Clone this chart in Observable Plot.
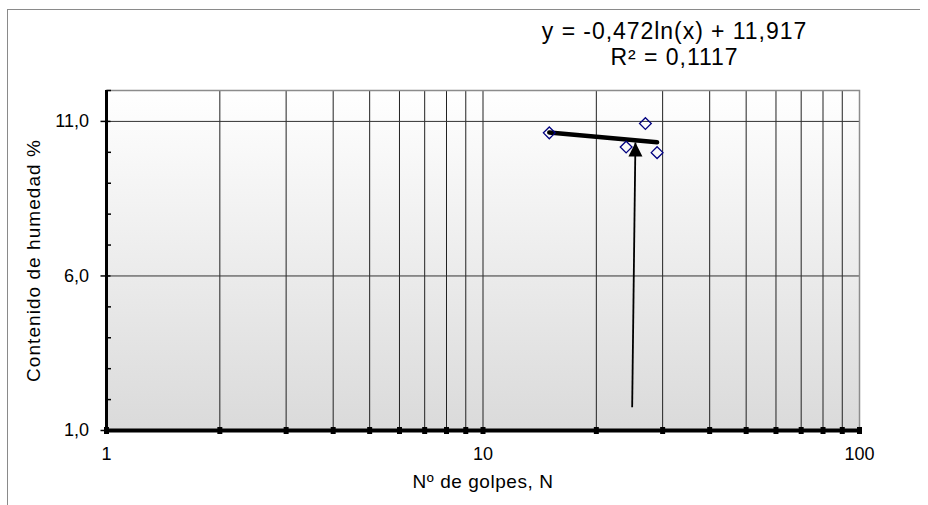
<!DOCTYPE html>
<html>
<head>
<meta charset="utf-8">
<script src="https://cdn.jsdelivr.net/npm/d3@7"></script>
<script src="https://cdn.jsdelivr.net/npm/@observablehq/plot@0.6"></script>
<style>
  body { margin: 0; background: #fff; }
  #chart { position: relative; width: 928px; height: 505px; overflow: hidden; font-family: "Liberation Sans", Arial, sans-serif; }
  #chart .area { position: absolute; left: 7px; top: 9px; width: 913px; height: 600px; box-sizing: border-box;
                 border-top: 1.5px solid #8a8a8a; border-left: 1.5px solid #8a8a8a; }
  #chart svg { position: absolute; left: 0; top: 0; }
</style>
</head>
<body>
<div id="chart"><div class="area"></div></div>
<script>
// Blow count (N) and moisture content (%) of each trial
const golpes = [15, 27, 24, 29];
const humedad = [10.63, 10.93, 10.17, 9.99];

// Logarithmic trendline y = a·ln(x) + b and its R²
const coefA = -0.472;
const coefB = 11.917;
const r2 = 0.1117;

// Axis ticks
const xGrid = [1, 2, 3, 4, 5, 6, 7, 8, 9, 10, 20, 30, 40, 50, 60, 70, 80, 90, 100];
const xTickLabels = [1, 10, 100];
const yMajor = [1, 6, 11];
const yMinor = [2, 3, 4, 5, 7, 8, 9, 10, 12];

// Arrow pointing at N = 25 on the trendline
const arrowX = [24.9, 25.4];
const arrowY = [1.75, 10.32];

// Titles
const yTitle = "Contenido de humedad %";
const xTitle = "Nº de golpes, N";

const fmt = (v, d) => v.toFixed(d).replace(".", ",");
const points = golpes.map((x, i) => ({x, y: humedad[i]}));
const trendX = d3.extent(golpes);
const trend = trendX.map(x => ({x, y: coefA * Math.log(x) + coefB}));
const equation = `y = ${fmt(coefA, 3)}ln(x) + ${fmt(coefB, 3)}\nR² = ${fmt(r2, 4)}`;

// Small custom symbols: axis tick stubs, square axis markers and a filled arrowhead (tip at origin)
const minorTick = {draw(ctx) { ctx.moveTo(0, 0); ctx.lineTo(4.5, 0); }};
const majorTick = {draw(ctx) { ctx.moveTo(-6, 0); ctx.lineTo(4, 0); }};
const axisSquare = {draw(ctx) { ctx.rect(-2.5, -3.5, 5, 7); }};
const arrowHead = {draw(ctx) { ctx.moveTo(0, 0); ctx.lineTo(7, 14); ctx.lineTo(-7, 14); ctx.closePath(); }};

const chart = Plot.plot({
  width: 928,
  height: 505,
  marginLeft: 106,
  marginRight: 69,
  marginTop: 90,
  marginBottom: 75,
  style: {fontFamily: '"Liberation Sans", Arial, sans-serif', background: "transparent", overflow: "visible"},
  x: {type: "log", domain: [1, 100]},
  y: {domain: [1, 12]},
  marks: [
    Plot.frame({fill: "url(#plotBg)"}),
    Plot.ruleX(xGrid.filter(d => d > 1 && d < 100), {x: d => d, stroke: "#222", strokeWidth: 1}),
    Plot.ruleY(yMajor.filter(d => d > 1), {y: d => d, stroke: "#333", strokeWidth: 1}),
    Plot.frame({stroke: "#8c8c8c", strokeWidth: 1.5}),
    Plot.ruleX([1], {x: d => d, stroke: "#000", strokeWidth: 3}),
    Plot.ruleY([1], {y: d => d, stroke: "#000", strokeWidth: 4}),
    Plot.dot(yMinor, {y: d => d, frameAnchor: "left", symbol: minorTick, r: 4, stroke: "#000", strokeWidth: 1.5, fill: "none"}),
    Plot.dot(yMajor, {y: d => d, frameAnchor: "left", symbol: majorTick, r: 4, stroke: "#000", strokeWidth: 1.5, fill: "none"}),
    Plot.dot(xGrid, {x: d => d, frameAnchor: "bottom", symbol: axisSquare, r: 3, fill: "#000", stroke: "none"}),
    Plot.axisY(yMajor, {tickSize: 0, tickPadding: 17.5, tickFormat: d => fmt(d, 1), fontSize: 18, label: null}),
    Plot.axisX(xTickLabels, {tickSize: 0, tickPadding: 17, tickFormat: d => String(d), fontSize: 18, label: null}),
    Plot.text([yTitle], {frameAnchor: "left", rotate: -90, dx: -73, fontSize: 19, textAnchor: "middle", lineAnchor: "middle", fill: "#000"}),
    Plot.text([xTitle], {frameAnchor: "bottom", dy: 51, fontSize: 19, textAnchor: "middle", lineAnchor: "middle", fill: "#000"}),
    Plot.text([equation], {frameAnchor: "top-right", dx: -185, dy: -47, fontSize: 23, lineHeight: 1.16, textAnchor: "middle", lineAnchor: "middle", fill: "#000"}),
    Plot.line(trend, {x: "x", y: "y", stroke: "#000", strokeWidth: 4.5}),
    Plot.link([{x1: arrowX[0], y1: arrowY[0], x2: arrowX[1], y2: arrowY[1]}], {x1: "x1", y1: "y1", x2: "x2", y2: "y2", stroke: "#000", strokeWidth: 1.8}),
    Plot.dot([{x: arrowX[1], y: arrowY[1]}], {x: "x", y: "y", symbol: arrowHead, r: 7, fill: "#000", stroke: "none"}),
    Plot.dot(points, {x: "x", y: "y", symbol: "diamond2", r: 5.3, stroke: "#000080", strokeWidth: 1.3, fill: "none"})
  ]
});

const svg = d3.select(chart);

// Vertical white-to-grey fill of the plotting area
const grad = svg.insert("defs", ":first-child").append("linearGradient")
  .attr("id", "plotBg").attr("x1", 0).attr("y1", 0).attr("x2", 0).attr("y2", 1);
grad.append("stop").attr("offset", "0%").attr("stop-color", "#ffffff");
grad.append("stop").attr("offset", "100%").attr("stop-color", "#dadada");

// Slightly wider tracking on the titles and the trendline equation
svg.selectAll("text").each(function() {
  const t = this.textContent;
  if (t === yTitle) this.setAttribute("letter-spacing", "1.05px");
  else if (t === xTitle) this.setAttribute("letter-spacing", "0.55px");
  else if (t.startsWith("y =")) this.setAttribute("letter-spacing", "0.95px");
});

document.getElementById("chart").append(chart);
</script>
</body>
</html>
